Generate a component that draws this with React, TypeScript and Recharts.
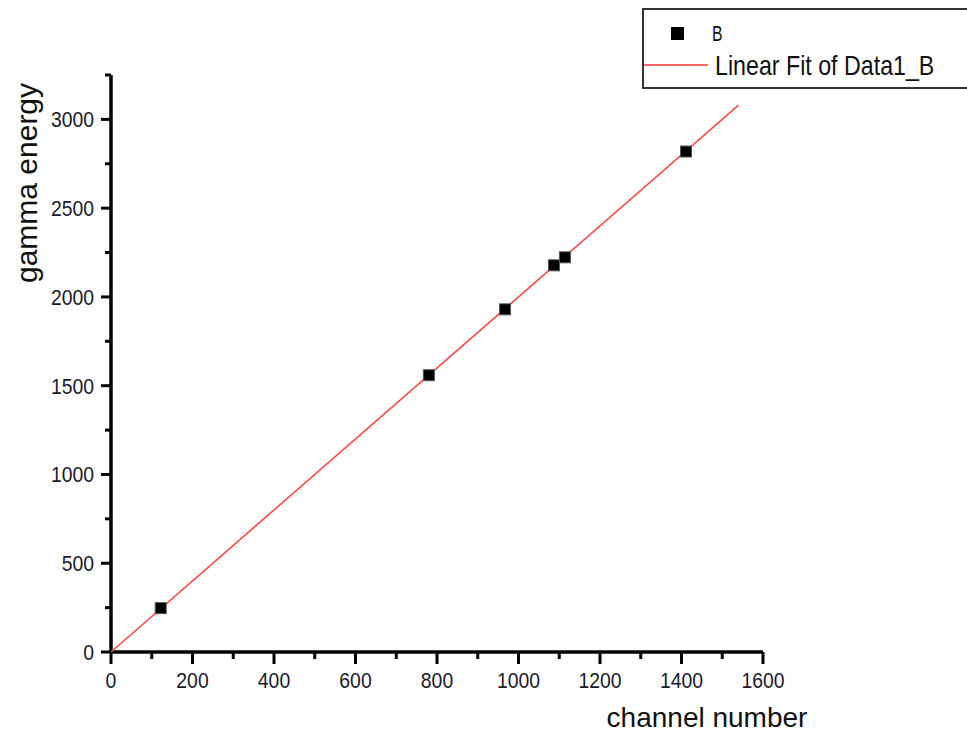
import React from 'react';
import { ScatterChart, Scatter, XAxis, YAxis } from 'recharts';

// calibration points: channel number vs gamma energy
const channels = [122, 780, 967, 1087, 1114, 1411];
const energies = [247, 1559, 1930, 2178, 2223, 2819];

// endpoints of the linear fit
const fitChannels = [0, 1540];
const fitEnergies = [0, 3080];

const xTicks = [0, 100, 200, 300, 400, 500, 600, 700, 800, 900, 1000, 1100, 1200, 1300, 1400, 1500, 1600];
const yTicks = [0, 250, 500, 750, 1000, 1250, 1500, 1750, 2000, 2250, 2500, 2750, 3000, 3250];

const points = channels.map((c, i) => ({ x: c, y: energies[i] }));
const fit = fitChannels.map((c, i) => ({ x: c, y: fitEnergies[i] }));

const FONT = '"Liberation Sans", Arial, sans-serif';
const TICK_COLOR = '#1a1a2c';

const XTick = (props: any) => {
  const { x, y, payload } = props;
  const major = payload.value % 200 === 0;
  return (
    <g>
      <line x1={x} x2={x} y1={y} y2={y + (major ? 12 : 7)} stroke="#000" strokeWidth={3} />
      {major && (
        <text
          transform={`translate(${x},${y + 36}) scale(0.88,1)`}
          textAnchor="middle"
          fontSize={22}
          fontFamily={FONT}
          fill={TICK_COLOR}
        >
          {payload.value}
        </text>
      )}
    </g>
  );
};

const YTick = (props: any) => {
  const { x, y, payload } = props;
  const major = payload.value % 500 === 0;
  return (
    <g>
      <line x1={x} x2={x - (major ? 10 : 6)} y1={y} y2={y} stroke="#000" strokeWidth={3} />
      {major && (
        <text
          transform={`translate(${x - 17},${y + 8}) scale(0.88,1)`}
          textAnchor="end"
          fontSize={22}
          fontFamily={FONT}
          fill={TICK_COLOR}
        >
          {payload.value}
        </text>
      )}
    </g>
  );
};

const SquareDot = (props: any) => {
  const { cx, cy } = props;
  return <rect x={cx - 5.5} y={cy - 5.5} width={11} height={11} fill="#000" stroke="#555" strokeWidth={1} />;
};

const NoDot = () => <g />;

export default function App() {
  return (
    <div style={{ position: 'absolute', left: 0, top: 0, width: 967, height: 733, overflow: 'hidden', background: '#fff' }}>
      <ScatterChart width={967} height={733} margin={{ top: 75, right: 204, bottom: 0, left: 0 }}>
        <XAxis
          type="number"
          dataKey="x"
          domain={[0, 1600]}
          ticks={xTicks}
          interval={0}
          height={81}
          tickSize={0}
          tickMargin={0}
          tick={<XTick />}
          axisLine={{ stroke: '#000', strokeWidth: 3.5 }}
          label={{
            content: (p: any) => (
              <text x={p.viewBox.x + 596} y={p.viewBox.y + 75} textAnchor="middle" fontSize={28} fontFamily={FONT} fill="#111">
                channel number
              </text>
            ),
          }}
        />
        <YAxis
          type="number"
          dataKey="y"
          domain={[0, 3250]}
          ticks={yTicks}
          interval={0}
          width={111}
          tickSize={0}
          tickMargin={0}
          tick={<YTick />}
          axisLine={{ stroke: '#000', strokeWidth: 3.5 }}
          label={{
            content: (p: any) => (
              <text
                transform={`translate(${p.viewBox.x + 37},${p.viewBox.y + 108}) rotate(-90)`}
                textAnchor="middle"
                fontSize={30}
                fontFamily={FONT}
                fill="#111"
              >
                gamma energy
              </text>
            ),
          }}
        />
        <Scatter
          data={fit}
          line={{ stroke: '#ff4a4a', strokeWidth: 1.6 }}
          lineType="joint"
          shape={<NoDot />}
          isAnimationActive={false}
        />
        <Scatter data={points} shape={<SquareDot />} isAnimationActive={false} />
      </ScatterChart>

      {/* legend box, cut off by the right edge */}
      <svg width={967} height={733} style={{ position: 'absolute', left: 0, top: 0, pointerEvents: 'none' }}>
        <rect x={643} y={9} width={340} height={79} fill="#fff" stroke="#333" strokeWidth={2} />
        <rect x={671} y={27} width={13} height={13} fill="#000" />
        <text transform="translate(712,41) scale(0.72,1)" fontSize={22} fontFamily={FONT} fill="#111">
          B
        </text>
        <line x1={644} x2={708} y1={65} y2={65} stroke="#ff3030" strokeWidth={1.5} />
        <text transform="translate(715,75) scale(0.86,1)" fontSize={27} fontFamily={FONT} fill="#111">
          Linear Fit of Data1_B
        </text>
      </svg>
    </div>
  );
}
